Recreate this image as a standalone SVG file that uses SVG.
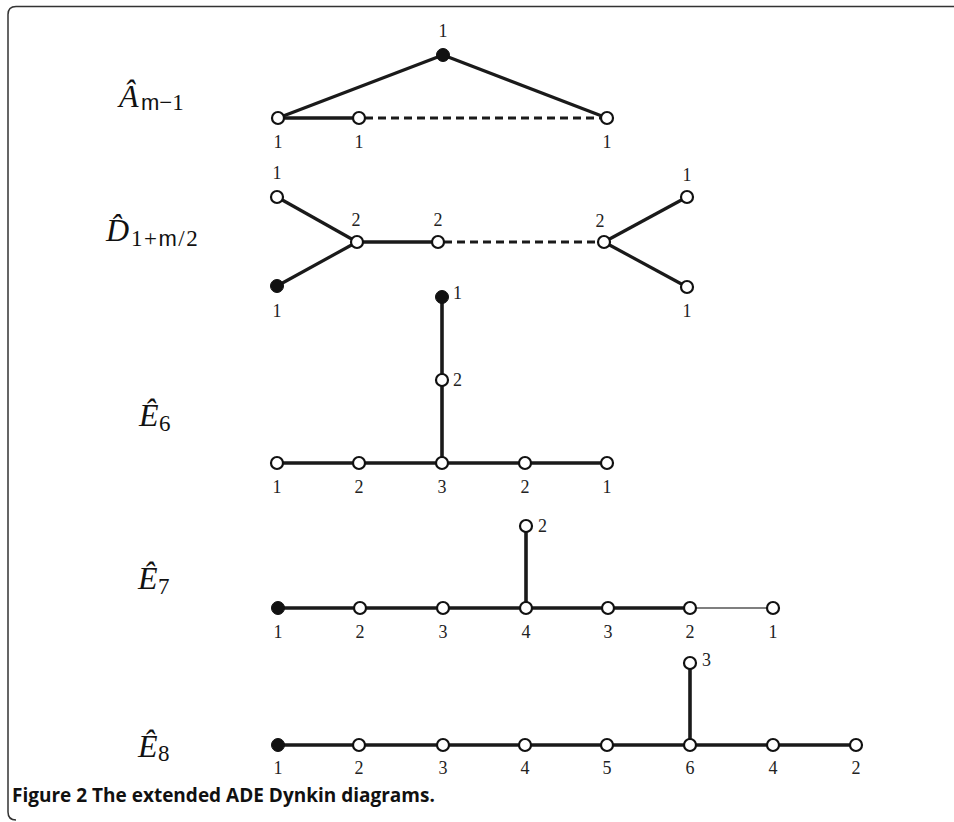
<svg xmlns="http://www.w3.org/2000/svg" width="954" height="822" viewBox="0 0 954 822">
<style>
.frame{fill:none;stroke:#333;stroke-width:1.5}
.e{stroke:#1a1a1a;stroke-width:3.6;fill:none;stroke-linecap:round}
.t{stroke:#1a1a1a;stroke-width:3.2;fill:none}
.d{stroke:#1a1a1a;stroke-width:3.2;fill:none;stroke-dasharray:8 5}
.thin{stroke:#555;stroke-width:1.6;fill:none}
.o{fill:#fff;stroke:#111;stroke-width:2.2}
.f{fill:#111;stroke:#111;stroke-width:1}
.n{font-family:"Liberation Serif","DejaVu Serif",serif;font-size:18px;fill:#222;text-anchor:middle}
.nl{font-family:"Liberation Serif","DejaVu Serif",serif;font-size:18px;fill:#222}
.m{font-family:"Liberation Serif","DejaVu Serif",serif;font-size:32px;font-style:italic;fill:#111}
.s{font-family:"Liberation Serif","DejaVu Serif",serif;font-size:23px;font-style:normal}
.ss{font-family:"Liberation Sans","DejaVu Sans",sans-serif;font-size:22px}
.cap{font-family:"Open Sans","Noto Sans",sans-serif;font-weight:bold;font-size:19px;fill:#111}
</style>
<path class="frame" d="M954 6.5 H16 Q8 6.5 8 14.5 V812 Q8 820 16 820"/>

<g id="labels">
<g id="label-A"><text class="m" x="119" y="107">Â<tspan class="s" x="141" dy="3"><tspan class="ss">m</tspan>−1</tspan></text></g>
<g id="label-D"><text class="m" x="106" y="241">D̂<tspan class="s" x="131" dy="5" letter-spacing="1.5">1+<tspan class="ss">m</tspan>/2</tspan></text></g>
<g id="label-E6"><text class="m" x="139" y="426">Ê<tspan class="s" x="159" dy="5">6</tspan></text></g>
<g id="label-E7"><text class="m" x="138" y="589">Ê<tspan class="s" x="158" dy="5">7</tspan></text></g>
<g id="label-E8"><text class="m" x="138" y="757">Ê<tspan class="s" x="158" dy="4">8</tspan></text></g>
</g>

<g id="connectors">
<line class="t" x1="278" y1="118" x2="443" y2="55"/>
<line class="t" x1="443" y1="55" x2="607" y2="118"/>
<line class="e" x1="278" y1="118" x2="359" y2="118"/>
<line class="d" x1="365" y1="118" x2="601" y2="118"/>
<line class="t" x1="277" y1="197" x2="357" y2="242"/>
<line class="t" x1="277" y1="286" x2="357" y2="242"/>
<line class="e" x1="357" y1="242" x2="438" y2="242"/>
<line class="d" x1="444" y1="242" x2="598" y2="242"/>
<line class="t" x1="604" y1="242" x2="687" y2="197"/>
<line class="t" x1="604" y1="242" x2="687" y2="287"/>
<line class="e" x1="442" y1="297" x2="442" y2="463"/>
<line class="e" x1="277" y1="463" x2="607" y2="463"/>
<line class="e" x1="526" y1="526" x2="526" y2="608"/>
<line class="e" x1="278" y1="608" x2="690" y2="608"/>
<line class="thin" x1="690" y1="608" x2="773" y2="608"/>
<line class="e" x1="690" y1="663" x2="690" y2="745"/>
<line class="e" x1="278" y1="745" x2="856" y2="745"/>
</g>

<g id="A-hat">
<g id="a0"><circle class="f" cx="443" cy="55" r="6.5"/><text class="n" x="443" y="37">1</text></g>
<g id="a1"><circle class="o" cx="278" cy="118" r="6"/><text class="n" x="278" y="148">1</text></g>
<g id="a2"><circle class="o" cx="359" cy="118" r="6"/><text class="n" x="359" y="148">1</text></g>
<g id="a3"><circle class="o" cx="607" cy="118" r="6"/><text class="n" x="607" y="148">1</text></g>
</g>

<g id="D-hat">
<g id="d0"><circle class="o" cx="277" cy="197" r="6"/><text class="n" x="277" y="179">1</text></g>
<g id="d1"><circle class="f" cx="277" cy="286" r="6.5"/><text class="n" x="277" y="317">1</text></g>
<g id="d2"><circle class="o" cx="357" cy="242" r="6"/><text class="n" x="356" y="226">2</text></g>
<g id="d3"><circle class="o" cx="438" cy="242" r="6"/><text class="n" x="438" y="226">2</text></g>
<g id="d4"><circle class="o" cx="604" cy="242" r="6"/><text class="n" x="600" y="227">2</text></g>
<g id="d5"><circle class="o" cx="687" cy="197" r="6"/><text class="n" x="687" y="181">1</text></g>
<g id="d6"><circle class="o" cx="687" cy="287" r="6"/><text class="n" x="687" y="317">1</text></g>
</g>

<g id="E6-hat">
<g id="e6-0"><circle class="f" cx="442" cy="297" r="6.5"/><text class="nl" x="453" y="299">1</text></g>
<g id="e6-1"><circle class="o" cx="442" cy="380" r="6"/><text class="nl" x="453" y="386">2</text></g>
<g id="e6-2"><circle class="o" cx="277" cy="463" r="6"/><text class="n" x="277" y="493">1</text></g>
<g id="e6-3"><circle class="o" cx="359" cy="463" r="6"/><text class="n" x="359" y="493">2</text></g>
<g id="e6-4"><circle class="o" cx="442" cy="463" r="6"/><text class="n" x="442" y="493">3</text></g>
<g id="e6-5"><circle class="o" cx="525" cy="463" r="6"/><text class="n" x="525" y="493">2</text></g>
<g id="e6-6"><circle class="o" cx="607" cy="463" r="6"/><text class="n" x="607" y="493">1</text></g>
</g>

<g id="E7-hat">
<g id="e7-0"><circle class="o" cx="526" cy="526" r="6"/><text class="nl" x="538" y="532">2</text></g>
<g id="e7-1"><circle class="f" cx="278" cy="608" r="6.5"/><text class="n" x="278" y="638">1</text></g>
<g id="e7-2"><circle class="o" cx="360" cy="608" r="6"/><text class="n" x="360" y="638">2</text></g>
<g id="e7-3"><circle class="o" cx="443" cy="608" r="6"/><text class="n" x="443" y="638">3</text></g>
<g id="e7-4"><circle class="o" cx="526" cy="608" r="6"/><text class="n" x="526" y="638">4</text></g>
<g id="e7-5"><circle class="o" cx="608" cy="608" r="6"/><text class="n" x="608" y="638">3</text></g>
<g id="e7-6"><circle class="o" cx="690" cy="608" r="6"/><text class="n" x="690" y="638">2</text></g>
<g id="e7-7"><circle class="o" cx="773" cy="608" r="6"/><text class="n" x="773" y="638">1</text></g>
</g>

<g id="E8-hat">
<g id="e8-0"><circle class="o" cx="690" cy="663" r="6"/><text class="nl" x="702" y="666">3</text></g>
<g id="e8-1"><circle class="f" cx="278" cy="745" r="6.5"/><text class="n" x="278" y="774">1</text></g>
<g id="e8-2"><circle class="o" cx="359" cy="745" r="6"/><text class="n" x="359" y="774">2</text></g>
<g id="e8-3"><circle class="o" cx="443" cy="745" r="6"/><text class="n" x="443" y="774">3</text></g>
<g id="e8-4"><circle class="o" cx="525" cy="745" r="6"/><text class="n" x="525" y="774">4</text></g>
<g id="e8-5"><circle class="o" cx="607" cy="745" r="6"/><text class="n" x="607" y="774">5</text></g>
<g id="e8-6"><circle class="o" cx="690" cy="745" r="6"/><text class="n" x="690" y="774">6</text></g>
<g id="e8-7"><circle class="o" cx="773" cy="745" r="6"/><text class="n" x="773" y="774">4</text></g>
<g id="e8-8"><circle class="o" cx="856" cy="745" r="6"/><text class="n" x="856" y="774">2</text></g>
</g>

<text id="caption" class="cap" x="12" y="802">Figure 2 The extended ADE Dynkin diagrams.</text>
</svg>
